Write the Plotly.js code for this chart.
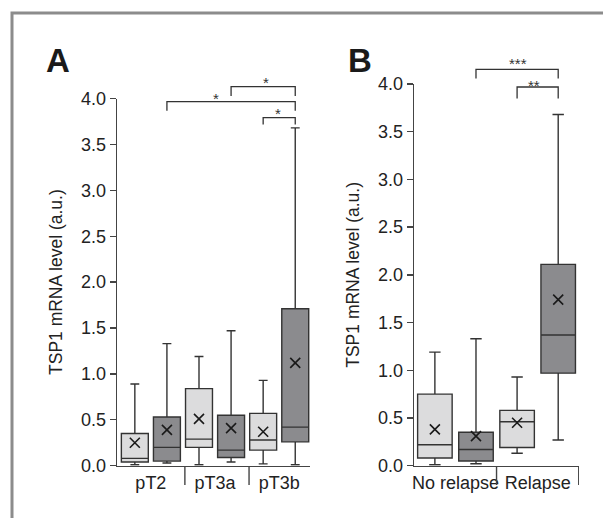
<!DOCTYPE html>
<html>
<head>
<meta charset="utf-8">
<script src="https://cdn.plot.ly/plotly-3.0.1.min.js"></script>
<style>html,body{margin:0;padding:0;background:#fff;}#chart{width:603px;height:518px;}</style>
</head>
<body>
<div id="chart"></div>
<script>
// ---------- DATA ----------
const catsA = ['pT2', 'pT3a', 'pT3b'];
const A_light_low = [0.01, 0.01, 0.02];
const A_light_q1 = [0.04, 0.20, 0.17];
const A_light_med = [0.08, 0.29, 0.28];
const A_light_q3 = [0.35, 0.84, 0.57];
const A_light_high = [0.89, 1.19, 0.93];
const A_light_mean = [0.25, 0.51, 0.37];

const A_dark_low = [0.03, 0.04, 0.01];
const A_dark_q1 = [0.05, 0.09, 0.26];
const A_dark_med = [0.20, 0.17, 0.42];
const A_dark_q3 = [0.53, 0.55, 1.71];
const A_dark_high = [1.33, 1.47, 3.68];
const A_dark_mean = [0.39, 0.41, 1.12];

const catsB = ['No relapse', 'Relapse'];
const B_light_low = [0.01, 0.13];
const B_light_q1 = [0.08, 0.19];
const B_light_med = [0.22, 0.46];
const B_light_q3 = [0.75, 0.58];
const B_light_high = [1.19, 0.93];
const B_light_mean = [0.38, 0.45];

const B_dark_low = [0.02, 0.27];
const B_dark_q1 = [0.05, 0.97];
const B_dark_med = [0.17, 1.37];
const B_dark_q3 = [0.35, 2.11];
const B_dark_high = [1.33, 3.68];
const B_dark_mean = [0.31, 1.74];

const yTickVals = [0, 0.5, 1, 1.5, 2, 2.5, 3, 3.5, 4];
const yTitle = 'TSP1 mRNA level (a.u.)';

// significance brackets: [from group, from sub(0 light / 1 dark), to group, to sub, label]
const sigA = [
  {from: [1, 1], to: [2, 1], label: '*'},
  {from: [0, 1], to: [2, 1], label: '*'},
  {from: [2, 0], to: [2, 1], label: '*'}
];
const sigB = [
  {from: [0, 1], to: [1, 1], label: '***'},
  {from: [1, 0], to: [1, 1], label: '**'}
];

// ---------- STYLE ----------
const W = 603, H = 518;
const FONT = '"Liberation Sans", Arial, Helvetica, sans-serif';
const LIGHT = '#dcdcdd', DARK = '#8b8b8e', EDGE = '#333333', AXC = '#444444';
const OFF = 0.25, BW = 0.42;
const py = px => 1 - px / H;
const px2x = px => px / W;

function pos(cats, sub) { return cats.map((c, i) => i + (sub === 0 ? -OFF : OFF)); }

function boxTrace(cats, sub, low, q1, med, q3, high, xa, ya) {
  return {
    type: 'box', x: pos(cats, sub), lowerfence: low, q1: q1, median: med, q3: q3, upperfence: high,
    width: BW, whiskerwidth: 0.33, fillcolor: sub === 0 ? LIGHT : DARK,
    line: {color: EDGE, width: 1.4}, boxpoints: false, xaxis: xa, yaxis: ya,
    hoverinfo: 'skip', showlegend: false
  };
}
function meanTrace(cats, sub, mean, xa, ya) {
  return {
    type: 'scatter', mode: 'markers', x: pos(cats, sub), y: mean, xaxis: xa, yaxis: ya,
    marker: {symbol: 'x-thin', size: 10, line: {color: '#1a1a1a', width: 1.6}},
    showlegend: false, hoverinfo: 'skip', cliponaxis: false
  };
}

const traces = [
  boxTrace(catsA, 0, A_light_low, A_light_q1, A_light_med, A_light_q3, A_light_high, 'x', 'y'),
  boxTrace(catsA, 1, A_dark_low, A_dark_q1, A_dark_med, A_dark_q3, A_dark_high, 'x', 'y'),
  meanTrace(catsA, 0, A_light_mean, 'x', 'y'),
  meanTrace(catsA, 1, A_dark_mean, 'x', 'y'),
  boxTrace(catsB, 0, B_light_low, B_light_q1, B_light_med, B_light_q3, B_light_high, 'x2', 'y2'),
  boxTrace(catsB, 1, B_dark_low, B_dark_q1, B_dark_med, B_dark_q3, B_dark_high, 'x2', 'y2'),
  meanTrace(catsB, 0, B_light_mean, 'x2', 'y2'),
  meanTrace(catsB, 1, B_dark_mean, 'x2', 'y2')
];

function yAxis(domain, anchor) {
  return {
    domain: domain, anchor: anchor, range: [0, 4], tickvals: yTickVals, tickformat: '.1f',
    ticks: 'outside', ticklen: 6, tickwidth: 1.4, tickcolor: AXC,
    showline: true, linecolor: AXC, linewidth: 1.4, showgrid: false, zeroline: false,
    tickfont: {family: FONT, size: 18, color: '#222'},
    title: {text: yTitle, font: {family: FONT, size: 17.5, color: '#222'}, standoff: 14},
    fixedrange: true
  };
}
function xAxis(domain, anchor, range, cats) {
  return {
    domain: domain, anchor: anchor, range: range, tickvals: cats.map((c, i) => i), ticktext: cats,
    ticks: '', showline: true, linecolor: AXC, linewidth: 1.4, showgrid: false, zeroline: false,
    tickfont: {family: FONT, size: 18, color: '#222'}, fixedrange: true
  };
}

const shapes = [];
const annotations = [];
// outer frame
shapes.push({type: 'rect', xref: 'paper', yref: 'paper', x0: px2x(12), x1: 1.05, y0: -0.05, y1: py(13),
  line: {color: '#8c8c8c', width: 3}, fillcolor: 'rgba(0,0,0,0)'});

// category separators
function separators(cats, xref, shift, withEnd) {
  const n = withEnd ? cats.length : cats.length - 1;
  for (let i = 0; i < n; i++) {
    shapes.push({type: 'line', xref: xref, yref: 'paper', x0: i + 0.5 + shift, x1: i + 0.5 + shift,
      y0: py(467), y1: py(485), line: {color: AXC, width: 1.4}});
  }
}
separators(catsA, 'x', 0.03, false);
separators(catsB, 'x2', 0.0, true);

// brackets
function bracket(b, xref, yTopPx, yLegPx, starX, starYPx) {
  const xa = b.from[0] + (b.from[1] === 0 ? -OFF : OFF);
  const xb = b.to[0] + (b.to[1] === 0 ? -OFF : OFF);
  shapes.push({type: 'path', xref: xref, yref: 'paper',
    path: `M${xa},${py(yLegPx)} L${xa},${py(yTopPx)} L${xb},${py(yTopPx)} L${xb},${py(yLegPx)}`,
    line: {color: '#333', width: 1.3}});
  annotations.push({xref: xref, yref: 'paper', x: starX, y: py(starYPx), text: b.label, showarrow: false,
    xanchor: 'center', yanchor: 'middle', font: {family: FONT, size: 15, color: '#333'}});
}
bracket(sigA[0], 'x', 86.7, 96, 1.8, 82.5);
bracket(sigA[1], 'x', 101.7, 110.7, 1.02, 99);
bracket(sigA[2], 'x', 117.7, 124.5, 1.98, 113.5);
bracket(sigB[0], 'x2', 69.3, 78.5, 0.76, 63.5);
bracket(sigB[1], 'x2', 87, 98.5, 0.95, 85);

// panel letters
annotations.push({xref: 'paper', yref: 'paper', x: px2x(57.5), y: py(61), text: '<b>A</b>', showarrow: false,
  xanchor: 'center', yanchor: 'middle', font: {family: FONT, size: 33, color: '#1a1a1a'}});
annotations.push({xref: 'paper', yref: 'paper', x: px2x(360), y: py(61), text: '<b>B</b>', showarrow: false,
  xanchor: 'center', yanchor: 'middle', font: {family: FONT, size: 33, color: '#1a1a1a'}});

const layout = {
  width: W, height: H, margin: {l: 0, r: 0, t: 0, b: 0},
  paper_bgcolor: '#fff', plot_bgcolor: 'rgba(0,0,0,0)', showlegend: false,
  font: {family: FONT, color: '#222'},
  xaxis: xAxis([px2x(117), px2x(310)], 'y', [-0.528, 2.48], catsA),
  yaxis: yAxis([py(465.7), py(98.5)], 'x'),
  xaxis2: xAxis([px2x(414), px2x(579)], 'y2', [-0.504, 1.503], catsB),
  yaxis2: yAxis([py(465.7), py(84)], 'x2'),
  shapes: shapes, annotations: annotations
};

Plotly.newPlot('chart', traces, layout, {staticPlot: true, displayModeBar: false});
</script>
</body>
</html>
